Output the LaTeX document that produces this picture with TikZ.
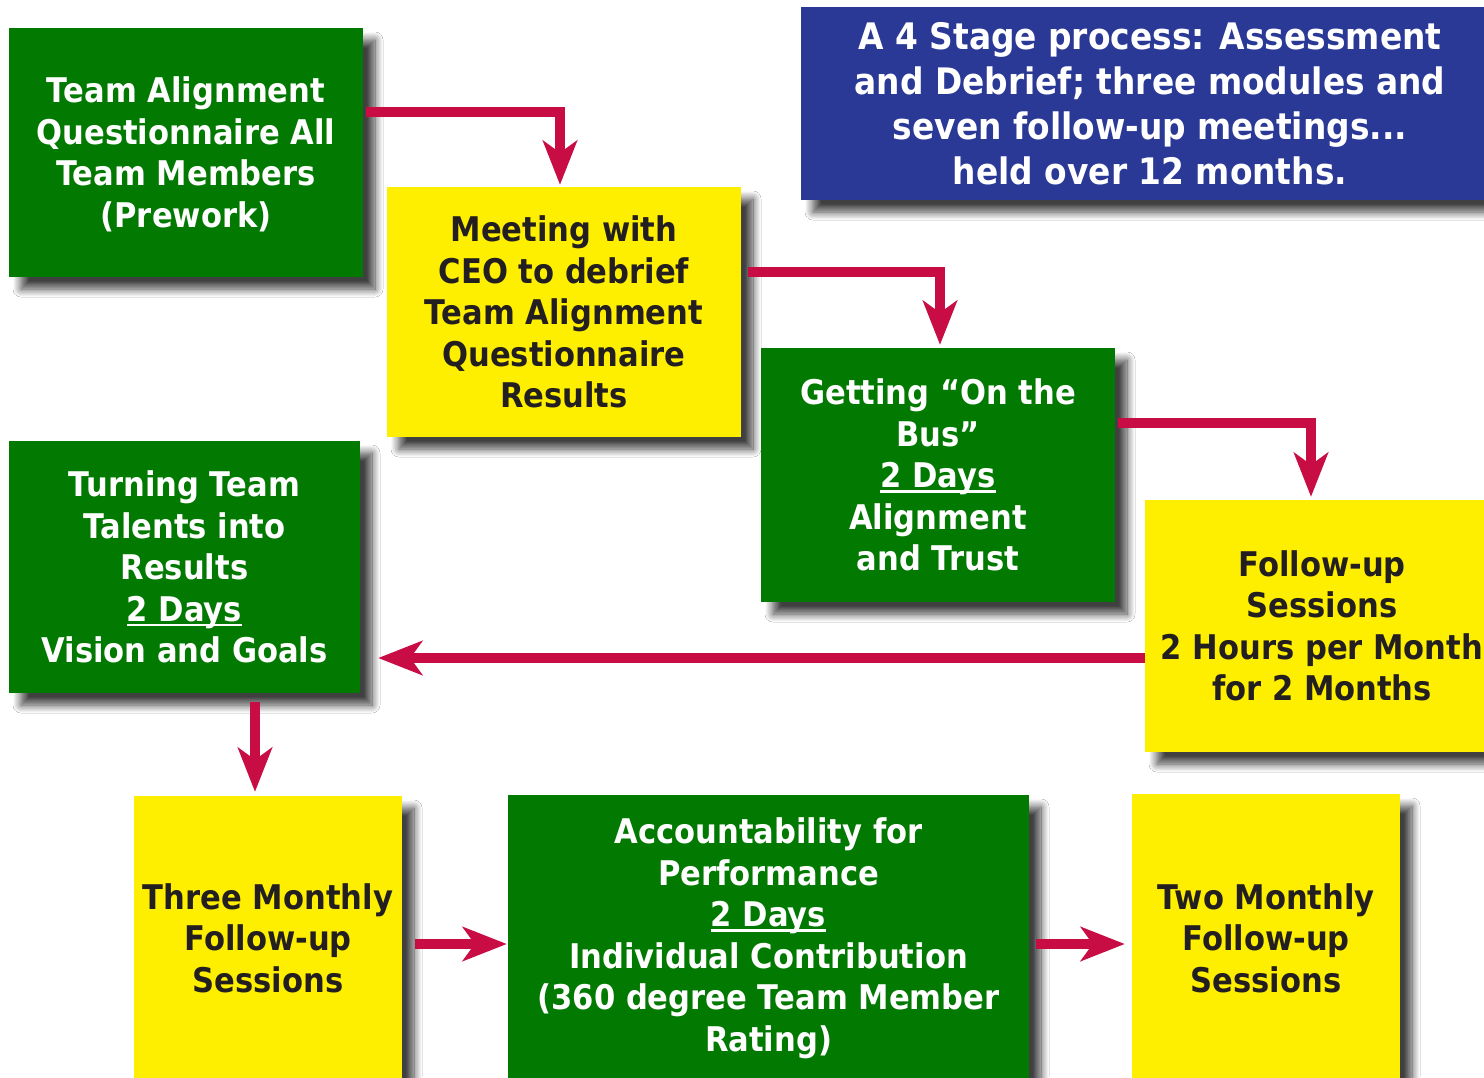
\documentclass[tikz,border=0pt]{standalone}
\usepackage{fontspec}
\setmainfont{DejaVu Sans}[FakeStretch=0.9]
\usetikzlibrary{arrows.meta,shadows.blur}
\definecolor{boxgreen}{RGB}{2,122,2}
\definecolor{boxyellow}{RGB}{254,238,0}
\definecolor{boxblue}{RGB}{43,57,150}
\definecolor{arrred}{RGB}{200,12,68}
\definecolor{darktext}{RGB}{35,31,32}
\newcommand\uline[1]{\setbox0\hbox{#1}\rlap{\rule[-5pt]{\wd0}{2.6pt}}\box0}
\tikzset{
  shad/.style={blur shadow={shadow xshift=12pt, shadow yshift=-12pt, shadow blur radius=8pt, shadow blur steps=12, shadow opacity=75}},
  boxbase/.style={shad, rectangle, inner sep=0pt, align=center,
    font=\fontsize{34}{41.5}\selectfont\bfseries},
  gbox/.style={boxbase, fill=boxgreen, text=white},
  ybox/.style={boxbase, fill=boxyellow, text=darktext},
  tbox/.style={shad, rectangle, inner sep=0pt, align=center, fill=boxblue, text=white,
    font=\fontsize{36.5}{45}\selectfont\bfseries},
  arr/.style={draw=arrred, line width=10pt, miter limit=10,
    -{Stealth[length=44pt,width=34pt,inset=12pt]}}
}
\begin{document}
\begin{tikzpicture}[x=1pt,y=-1pt]
\useasboundingbox (0,0) rectangle (1484,1077);
\clip (0,0) rectangle (1484,1077);
\fill[white] (0,0) rectangle (1484,1077);

\node[tbox, minimum width=698pt, minimum height=193pt] (title) at (1150,103.5)
  {A 4 Stage process: Assessment\\and Debrief; three modules and\\seven follow-up meetings...\\held over 12 months.};

\node[gbox, minimum width=354pt, minimum height=249pt] (b1) at (186,152.5)
  {\strut Team Alignment\\Questionnaire All\\Team Members\\(Prework)};
\node[ybox, minimum width=354pt, minimum height=250pt] (b2) at (564,312)
  {Meeting with\\CEO to debrief\\Team Alignment\\Questionnaire\\Results};
\node[gbox, minimum width=354pt, minimum height=254pt] (b3) at (938,475)
  {Getting “On the\\Bus”\\\uline{2 Days}\\Alignment\\and Trust};
\node[ybox, minimum width=354pt, minimum height=252pt] (b4) at (1322,626)
  {Follow-up\\Sessions\\2 Hours per Month\\for 2 Months};
\node[gbox, minimum width=351pt, minimum height=252pt] (b5) at (184.5,567)
  {Turning Team\\Talents into\\Results\\\uline{2 Days}\\Vision and Goals};
\node[ybox, minimum width=268pt, minimum height=284pt] (b6) at (268,938)
  {Three Monthly\\Follow-up\\Sessions};
\node[gbox, minimum width=521pt, minimum height=286pt] (b7) at (768.5,938)
  {Accountability for\\Performance\\\uline{2 Days}\\Individual Contribution\\(360 degree Team Member\\Rating)};
\node[ybox, minimum width=268pt, minimum height=288pt] (b8) at (1266,938)
  {Two Monthly\\Follow-up\\Sessions};

\draw[arr] ([xshift=3pt,yshift=40.5pt]b1.east) -| ([xshift=-4pt,yshift=2pt]b2.north);
\draw[arr] ([xshift=7pt,yshift=40pt]b2.east) -| ([xshift=2pt,yshift=3pt]b3.north);
\draw[arr] ([xshift=3pt,yshift=52pt]b3.east) -| ([xshift=-11pt,yshift=3pt]b4.north);
\draw[arr] ([yshift=-32pt]b4.west) -- ([xshift=18pt,yshift=-91pt]b5.east);
\draw[arr] ([xshift=70.5pt,yshift=-9pt]b5.south) -- ([xshift=-13pt,yshift=4pt]b6.north);
\draw[arr] ([xshift=13pt,yshift=-6pt]b6.east) -- ([xshift=-1pt,yshift=-6pt]b7.west);
\draw[arr] ([xshift=7pt,yshift=-6pt]b7.east) -- ([xshift=-7pt,yshift=-6pt]b8.west);
\end{tikzpicture}
\end{document}
